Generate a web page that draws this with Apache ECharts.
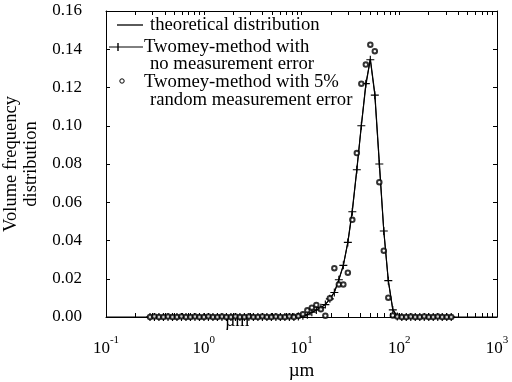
<!DOCTYPE html>
<html><head><meta charset="utf-8">
<script src="https://cdn.jsdelivr.net/npm/echarts@6/dist/echarts.min.js"></script>
<style>html,body{margin:0;padding:0;background:#fff}#c{width:512px;height:382px}</style>
</head><body><div id="c"></div>
<script>
// x grid of the retrieved size distributions (µm)
const xGrid = [0.282,0.313,0.348,0.387,0.431,0.479,0.532,0.592,0.658,0.731,
  0.813,0.904,1.005,1.117,1.242,1.380,1.535,1.706,1.897,2.109,
  2.344,2.606,2.897,3.221,3.581,3.981,4.426,4.920,5.470,6.081,
  6.761,7.516,8.356,9.290,10.33,11.48,12.76,14.19,15.78,17.54,
  19.50,21.68,24.10,26.79,29.79,33.11,36.81,40.93,45.50,50.58,
  56.23,62.52,69.50,77.27,85.90,95.50,106.2,118.0,131.2,145.9,
  162.2,180.3,200.4,222.8,247.7,275.4,306.2,340.4];
// Twomey-method with no measurement error
const yTwomey = [0,0,0,0,0,0,0,0,0,0,
  0,0,0,0,0,0,0,0,0,0,
  0,0,0,0,0,0,0,0,0,0,
  0,0,0,0.0003,0.0006,0.0012,0.0025,0.0037,0.0049,0.0065,
  0.0095,0.0128,0.0195,0.027,0.039,0.055,0.077,0.100,0.122,0.1345,
  0.116,0.080,0.045,0.019,0.0037,0.0003,0,0,0,0,
  0,0,0,0,0,0,0,0];
// Twomey-method with 5% random measurement error
const yNoisy = [0,0.0003,0,0,0.0002,0,0,0.0003,0,0,
  0.0002,0,0,0.0003,0,0,0.0002,0,0,0.0003,
  0,0,0.0002,0,0,0.0003,0,0,0.0002,0,
  0,0.0003,0,0.0005,0.0015,0.0035,0.0049,0.0063,0.004,0.0007,
  0.0098,0.0255,0.017,0.017,0.0232,0.0508,0.0857,0.122,0.132,0.1424,
  0.139,0.0705,0.0347,0.0101,0.0008,0.0002,0,0,0.0002,0,
  0,0.0003,0,0,0.0002,0,0,0];
// theoretical distribution
const xTheory = [0.1,1,5,8.356,9.290,10.33,11.48,12.76,14.19,15.78,17.54,19.50,21.68,24.10,26.79,29.79,
  33.11,36.81,40.93,45.50,50.58,56.23,62.52,69.50,77.27,85.90,95.50,106.2,300,1000];
const yTheory = [0,0,0,0,0.0003,0.0006,0.0012,0.0024,0.0036,0.0049,0.0066,0.0094,0.013,0.0195,0.027,0.039,
  0.056,0.077,0.100,0.121,0.135,0.117,0.081,0.045,0.019,0.004,0.0003,0,0,0];
// axis ticks
const yTicksMin = 0, yTicksMax = 0.16, yStep = 0.02;
const xMajor = [0.1,1,10,100,1000];
const xMinor = [0.2,0.3,0.4,0.5,0.6,0.7,0.8,0.9,2,3,4,5,6,7,8,9,20,30,40,50,60,70,80,90,200,300,400,500,600,700,800,900];
const legendNames = ['theoretical distribution', 'Twomey-method with\nno measurement error', 'Twomey-method with 5%\nrandom measurement error'];

const serif = '"Liberation Serif", "DejaVu Serif", serif';
const pair = (xs, ys) => xs.map((x, i) => [x, ys[i]]);
const allTicks = xMajor.concat(xMinor).sort((a, b) => a - b);
const plusPath = 'path://M0,4.3L10,4.3L10,5.7L0,5.7Z M4.3,0L5.7,0L5.7,10L4.3,10Z';

const chart = echarts.init(document.getElementById('c'));
const logX = (pos, showLabel) => ({
  type: 'log', logBase: 10, min: 0.1, max: 1000, position: pos,
  axisLine: {show: true, onZero: false, lineStyle: {color: '#000', width: 1}},
  axisTick: {show: true, inside: true, length: 4, customValues: allTicks, lineStyle: {color: '#000'}},
  minorTick: {show: false}, splitLine: {show: false},
  axisLabel: showLabel ? {
    show: true, margin: 18, customValues: xMajor,
    formatter: v => '{b|10}{s|' + Math.round(Math.log10(v)) + '}',
    rich: {
      b: {fontSize: 17, fontFamily: serif, color: '#000', lineHeight: 22, verticalAlign: 'bottom'},
      s: {fontSize: 11, fontFamily: serif, color: '#000', lineHeight: 12, verticalAlign: 'top'}
    }
  } : {show: false},
  name: showLabel ? 'µm' : '', nameLocation: 'middle', nameGap: 40,
  nameTextStyle: {fontSize: 19, fontFamily: serif, color: '#000'}
});
const valY = (pos, showLabel) => ({
  type: 'value', min: yTicksMin, max: yTicksMax, interval: yStep, position: pos,
  axisLine: {show: true, onZero: false, lineStyle: {color: '#000', width: 1}},
  axisTick: {show: true, inside: true, length: 4, lineStyle: {color: '#000'}},
  splitLine: {show: false},
  axisLabel: showLabel ? {show: true, margin: 24, formatter: v => v.toFixed(2),
    fontSize: 17, fontFamily: serif, color: '#000', padding: [5, 0, 0, 0]} : {show: false},
  name: showLabel ? 'Volume frequency\ndistribution' : '', nameLocation: 'middle', nameRotate: 90, nameGap: 59,
  nameTextStyle: {fontSize: 18.5, fontFamily: serif, color: '#000', lineHeight: 20}
});

chart.setOption({
  backgroundColor: '#fff',
  animation: false,
  grid: {left: 106, right: 15, top: 11, bottom: 65, containLabel: false, outerBoundsMode: 'none'},
  xAxis: [logX('bottom', true), logX('top', false)],
  yAxis: [valY('left', true), valY('right', false)],
  series: [
    {name: legendNames[0], type: 'line', data: pair(xTheory, yTheory), showSymbol: false, symbol: 'none',
      lineStyle: {color: '#000', width: 1.2}, z: 2},
    {name: legendNames[1], type: 'line', data: pair(xGrid, yTwomey), symbol: plusPath, symbolSize: 8,
      itemStyle: {color: '#000'}, lineStyle: {color: '#000', width: 1}, z: 3},
    {name: legendNames[2], type: 'scatter', data: pair(xGrid, yNoisy), symbol: 'emptyCircle', symbolSize: 4.5,
      itemStyle: {color: '#000', borderColor: '#000', borderWidth: 1}, z: 4}
  ],
  graphic: [
    {type: 'text', left: 225, top: 312, z: 0, style: {text: 'µm', font: '18px ' + serif, fill: '#000'}},
    {type: 'line', shape: {x1: 117, y1: 25, x2: 143, y2: 25}, style: {stroke: '#000', lineWidth: 1.3}},
    {type: 'text', x: 150, y: 25, style: {text: legendNames[0], font: '18.7px ' + serif, fill: '#000', verticalAlign: 'middle'}},
    {type: 'line', shape: {x1: 109, y1: 47, x2: 143, y2: 47}, style: {stroke: '#000', lineWidth: 1}},
    {type: 'line', shape: {x1: 118, y1: 43, x2: 118, y2: 51}, style: {stroke: '#000', lineWidth: 1.4}},
    {type: 'text', x: 144, y: 47, style: {text: 'Twomey-method with', font: '18.7px ' + serif, fill: '#000', verticalAlign: 'middle'}},
    {type: 'text', x: 150, y: 64, style: {text: 'no measurement error', font: '18.7px ' + serif, fill: '#000', verticalAlign: 'middle'}},
    {type: 'circle', shape: {cx: 122, cy: 81, r: 2.2}, style: {fill: '#fff', stroke: '#000', lineWidth: 1}},
    {type: 'text', x: 144, y: 82, style: {text: 'Twomey-method with 5%', font: '18.7px ' + serif, fill: '#000', verticalAlign: 'middle'}},
    {type: 'text', x: 150, y: 100, style: {text: 'random measurement error', font: '18.7px ' + serif, fill: '#000', verticalAlign: 'middle'}}
  ]
});
</script>
</body></html>
